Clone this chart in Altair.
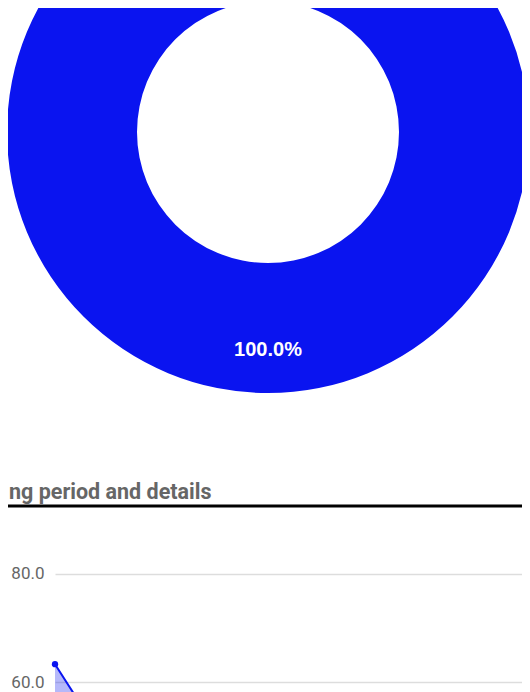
import altair as alt
import pandas as pd

# ---- data ----
share_labels = ["Total"]
share_values = [100.0]
share_text = ["100.0%"]

section_title = ["ng period and details"]

period_index = [0, 1, 2, 3, 4, 5, 6, 7, 8, 9, 10, 11]
period_values = [63.3, 51.0, 47.0, 44.0, 49.0, 46.0, 43.0, 45.0, 42.0, 40.0, 43.0, 41.0]

y_ticks = [60, 80]

BLUE = "#0a14f0"

donut_df = pd.DataFrame({"cat": share_labels, "v": share_values, "lbl": share_text})
title_df = pd.DataFrame({"t": section_title})
area_df = pd.DataFrame({"i": period_index, "v": period_values})

cx, cy = 213, 124

donut = alt.Chart(donut_df).mark_arc(radius=261, innerRadius=131, color=BLUE).encode(
    theta=alt.Theta("v:Q", stack=True),
    x=alt.value(cx), y=alt.value(cy),
)

label = alt.Chart(donut_df).mark_text(
    color="white", font="Liberation Sans", fontWeight="bold", fontSize=20,
    align="center", baseline="middle",
).encode(
    theta=alt.Theta("v:Q", stack=True),
    radius=alt.value(218),
    x=alt.value(cx), y=alt.value(cy),
    text="lbl:N",
)

title = alt.Chart(title_df).mark_text(
    font="Roboto", fontWeight="bold", fontSize=21.5, color="#666666",
    align="left", baseline="alphabetic",
).encode(x=alt.value(-46), y=alt.value(491), text="t:N")

rule = alt.Chart(title_df).mark_rule(color="black", strokeWidth=3).encode(
    x=alt.value(-55), x2=alt.value(480), y=alt.value(498)
)

xs = alt.X("i:Q", axis=None, scale=alt.Scale(domain=[0, 11], nice=False, zero=False))
ys = alt.Y(
    "v:Q",
    scale=alt.Scale(domain=[58.15, 184.8], nice=False, zero=False),
    axis=alt.Axis(values=y_ticks, format=".1f", title=None, domain=False, ticks=False,
                  labelPadding=11, labelFontSize=17, labelColor="#666666", labelFont="Roboto",
                  gridColor="#dddddd", gridWidth=1.5),
)

area = alt.Chart(area_df).mark_area(color=BLUE, opacity=0.3).encode(x=xs, y=ys)
line = alt.Chart(area_df).mark_line(color=BLUE, strokeWidth=2).encode(x=xs, y=ys)
pts = alt.Chart(area_df).mark_circle(color=BLUE, size=40, opacity=1).encode(x=xs, y=ys)

chart = alt.layer(donut, label, title, rule, area, line, pts).properties(
    width=467, height=684,
    padding={"left": 47, "top": 0, "right": 0, "bottom": 0},
    autosize=alt.AutoSizeParams(type="none"),
).configure_view(stroke=None)

chart.save("out.html", embed_options={"renderer": "svg", "actions": False})
